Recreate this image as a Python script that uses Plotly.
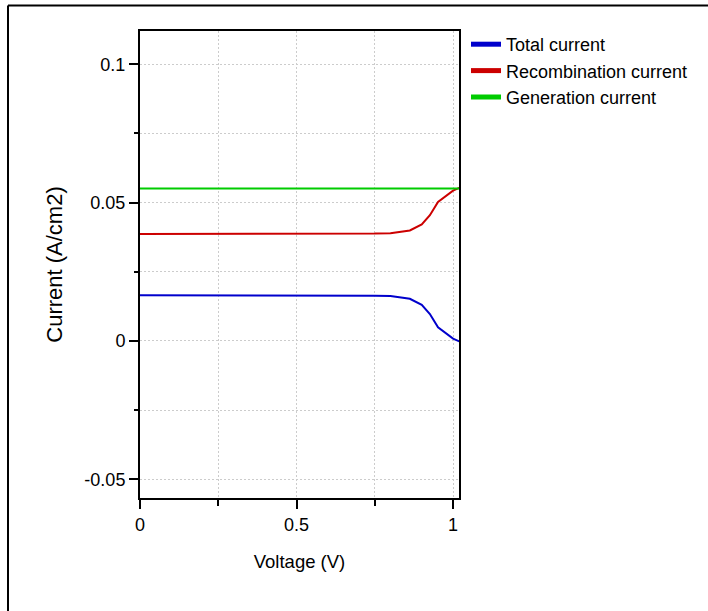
import plotly.graph_objects as go

# Bias sweep (V) and current densities (A/cm2)
voltage = [0.0, 0.1, 0.2, 0.3, 0.4, 0.5, 0.6, 0.7, 0.75, 0.8, 0.83, 0.862,
           0.9, 0.926, 0.952, 0.979, 1.0, 1.02]
total_current = [0.0165, 0.0165, 0.0165, 0.0165, 0.0165, 0.0165, 0.01648, 0.01642,
                 0.01634, 0.0162, 0.0158, 0.0152, 0.0130, 0.0097, 0.0049, 0.0024,
                 0.0008, -0.0002]
recombination_current = [0.0386, 0.0386, 0.0386, 0.0386, 0.0386, 0.0386, 0.03862, 0.03868,
                         0.03876, 0.0389, 0.0393, 0.0399, 0.0421, 0.0454, 0.0502, 0.0527,
                         0.0543, 0.0553]
generation_current = [0.0551] * len(voltage)

series = [
    ("Total current", total_current, "#0000CC"),
    ("Recombination current", recombination_current, "#CC0000"),
    ("Generation current", generation_current, "#00CC00"),
]

y_tickvals = [-0.05, 0, 0.05, 0.1]
y_ticktext = ["-0.05", "0", "0.05", "0.1"]
x_tickvals = [0, 0.5, 1]
x_ticktext = ["0", "0.5", "1"]

FONT = "Liberation Sans, Arial, Helvetica, sans-serif"
GRID = "#cccccc"
DOTS = "2px,2px"

fig = go.Figure()
for name, values, color in series:
    fig.add_trace(go.Scatter(x=voltage, y=values, mode="lines", name=name,
                             line=dict(color=color, width=2), showlegend=False))
    # thicker swatch for the legend
    fig.add_trace(go.Scatter(x=[None], y=[None], mode="lines", name=name,
                             line=dict(color=color, width=5), showlegend=True))

W, H = 708, 611
L, R, T, B = 140, 249, 31, 113
pw, ph = W - L - R, H - T - B

def px_to_paper_x(px):
    return (px - L) / pw

def px_to_paper_y(py):
    return 1 - (py - T) / ph

axis_common = dict(
    showline=True, linecolor="black", linewidth=2, mirror=True,
    ticks="outside", ticklen=9, tickwidth=2, tickcolor="black",
    showgrid=True, gridcolor=GRID, gridwidth=1, griddash=DOTS,
    zeroline=False,
    tickfont=dict(family=FONT, size=18, color="black"),
)

fig.update_layout(
    width=W, height=H,
    margin=dict(l=L, r=R, t=T, b=B, autoexpand=False),
    paper_bgcolor="white", plot_bgcolor="white",
    font=dict(family=FONT, color="black"),
    xaxis=dict(
        range=[0, 1.019], tickmode="array", tickvals=x_tickvals, ticktext=x_ticktext,
        title=dict(text="Voltage (V)", standoff=21,
                   font=dict(family=FONT, size=18.5, color="black")),
        minor=dict(tickmode="array", tickvals=[0.25, 0.75], ticks="outside", ticklen=6,
                   tickwidth=2, tickcolor="black", showgrid=True, gridcolor=GRID,
                   griddash=DOTS),
        **axis_common,
    ),
    yaxis=dict(
        range=[-0.0568, 0.112], tickmode="array", tickvals=y_tickvals, ticktext=y_ticktext,
        title=dict(text="Current (A/cm2)", standoff=16,
                   font=dict(family=FONT, size=22, color="black")),
        minor=dict(tickmode="array", tickvals=[-0.025, 0.025, 0.075], ticks="outside",
                   ticklen=4, tickwidth=2, tickcolor="black", showgrid=True,
                   gridcolor=GRID, griddash=DOTS),
        **axis_common,
    ),
    legend=dict(
        x=px_to_paper_x(466), y=px_to_paper_y(26), xanchor="left", yanchor="top",
        font=dict(family=FONT, size=18, color="black"),
        bgcolor="rgba(0,0,0,0)", itemwidth=30, tracegroupgap=0,
    ),
    shapes=[
        dict(type="line", xref="paper", yref="paper",
             x0=px_to_paper_x(8), x1=px_to_paper_x(W + 5),
             y0=px_to_paper_y(5.5), y1=px_to_paper_y(5.5),
             line=dict(color="black", width=2)),
        dict(type="line", xref="paper", yref="paper",
             x0=px_to_paper_x(8), x1=px_to_paper_x(8),
             y0=px_to_paper_y(5.5), y1=px_to_paper_y(H + 5),
             line=dict(color="black", width=2)),
    ],
)

fig.write_html("out.html")
